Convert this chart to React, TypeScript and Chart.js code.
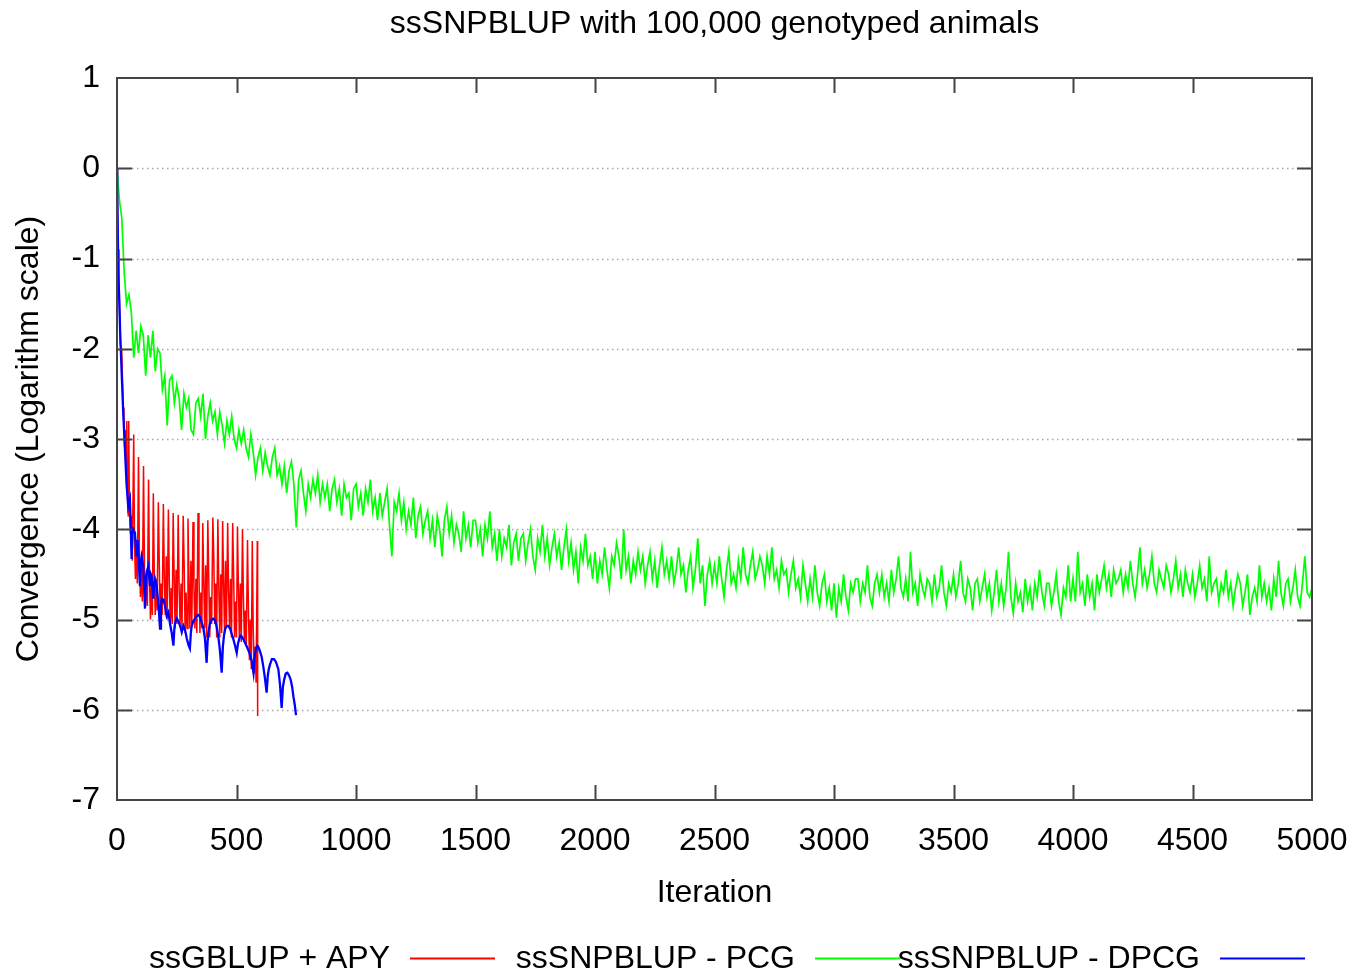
import React, { useEffect, useRef } from 'react';
import { Chart, registerables } from 'chart.js';

Chart.register(...registerables);

const TITLE = 'ssSNPBLUP with 100,000 genotyped animals';
const X_TITLE = 'Iteration';
const Y_TITLE = 'Convergence (Logarithm scale)';
const X_MIN = 0;
const X_MAX = 5000;
const X_STEP = 500;
const Y_MIN = -7;
const Y_MAX = 1;
const Y_STEP = 1;

const SERIES_LABELS = ['ssGBLUP + APY', 'ssSNPBLUP - PCG', 'ssSNPBLUP - DPCG'];
const SERIES_COLORS = ['#ff0000', '#00ff00', '#0000ff'];

// ssSNPBLUP - PCG, one value every GREEN_STEP iterations (0..5000)
const GREEN_STEP = 10;
const GREEN_VALUES = [
  0, -0.35, -0.55, -1.15, -1.5, -1.4, -1.6, -2.1, -1.8, -2.05,
  -1.75, -1.85, -2.3, -1.85, -2.1, -1.8, -2.25, -2.0, -2.05, -2.45,
  -2.3, -2.85, -2.35, -2.3, -2.6, -2.4, -2.55, -2.9, -2.5, -2.65,
  -2.55, -2.9, -2.95, -2.6, -2.55, -2.75, -2.5, -3.0, -2.75, -2.6,
  -2.8, -2.7, -2.95, -2.7, -2.85, -3.05, -2.8, -2.95, -2.75, -3.0,
  -3.1, -2.9, -3.05, -2.9, -3.1, -3.2, -2.95, -3.15, -3.4, -3.2,
  -3.1, -3.35, -3.15, -3.3, -3.4, -3.2, -3.1, -3.4, -3.3, -3.5,
  -3.3, -3.6, -3.35, -3.25, -3.5, -3.98, -3.45, -3.35, -3.6, -3.8,
  -3.5, -3.65, -3.45, -3.6, -3.4, -3.7, -3.5, -3.65, -3.5, -3.8,
  -3.55, -3.45, -3.7, -3.55, -3.85, -3.5, -3.65, -3.6, -3.9, -3.55,
  -3.5, -3.75, -3.6, -3.85, -3.55, -3.7, -3.45, -3.8, -3.65, -3.9,
  -3.6, -3.85, -3.7, -3.55, -3.95, -4.3, -3.7, -3.8, -3.6, -3.9,
  -3.7, -4.0, -3.8, -3.95, -3.65, -4.1, -3.85, -3.75, -4.05, -3.9,
  -3.8, -4.1, -3.9, -4.2, -3.85, -4.0, -4.3, -3.9, -3.75, -4.05,
  -3.85, -4.15, -3.95, -4.05, -4.25, -3.8, -4.1, -3.95, -4.2, -3.9,
  -3.9, -4.15, -4.0, -4.3, -3.95, -4.1, -3.8, -4.2, -4.05, -4.35,
  -4.0, -4.3, -4.1, -4.2, -3.95, -4.4, -4.15, -4.05, -4.35, -4.1,
  -4.05, -4.35, -4.15, -4.0, -4.3, -4.45, -4.1, -4.25, -3.95, -4.3,
  -4.1, -4.4, -4.2, -4.05, -4.3, -4.15, -4.45, -4.2, -4.0, -4.35,
  -4.15, -4.45, -4.25, -4.6, -4.2, -4.35, -4.05, -4.4, -4.3, -4.55,
  -4.25, -4.6, -4.35, -4.5, -4.2, -4.45, -4.65, -4.3, -4.4, -4.15,
  -4.3, -4.55, -4.0, -4.45, -4.3, -4.6, -4.35, -4.5, -4.25, -4.45,
  -4.3, -4.6, -4.4, -4.25, -4.55, -4.35, -4.65, -4.4, -4.2, -4.5,
  -4.35, -4.55, -4.3, -4.6, -4.45, -4.2, -4.5, -4.4, -4.7, -4.45,
  -4.3, -4.65, -4.45, -4.1, -4.6, -4.4, -4.85, -4.5, -4.35, -4.6,
  -4.4, -4.6, -4.3, -4.55, -4.75, -4.45, -4.25, -4.6, -4.5, -4.65,
  -4.35, -4.55, -4.2, -4.5, -4.6, -4.4, -4.25, -4.55, -4.45, -4.3,
  -4.4, -4.6, -4.3, -4.5, -4.2, -4.55, -4.45, -4.65, -4.35, -4.5,
  -4.45, -4.7, -4.5, -4.35, -4.65, -4.55, -4.75, -4.4, -4.6, -4.8,
  -4.55, -4.75, -4.4, -4.7, -4.85, -4.6, -4.5, -4.8, -4.65, -4.9,
  -4.6, -4.98, -4.65, -4.8, -4.5, -4.75, -4.9, -4.6, -4.7, -4.55,
  -4.55, -4.8, -4.6, -4.7, -4.4, -4.75, -4.85, -4.6, -4.5, -4.7,
  -4.5, -4.75, -4.6, -4.8, -4.45, -4.7, -4.55, -4.3, -4.65, -4.75,
  -4.55, -4.8, -4.25, -4.7, -4.6, -4.85, -4.5, -4.65, -4.75, -4.55,
  -4.6, -4.8, -4.5, -4.75, -4.65, -4.4, -4.7, -4.85, -4.6, -4.7,
  -4.5, -4.75, -4.6, -4.35, -4.7, -4.8, -4.55, -4.65, -4.9, -4.6,
  -4.55, -4.8, -4.65, -4.5, -4.75, -4.6, -4.9, -4.7, -4.45, -4.8,
  -4.6, -4.85, -4.65, -4.25, -4.75, -4.93, -4.6, -4.8, -4.7, -4.92,
  -4.55, -4.8, -4.65, -4.9, -4.6, -4.75, -4.45, -4.7, -4.85, -4.6,
  -4.6, -4.85, -4.7, -4.5, -4.8, -4.95, -4.65, -4.75, -4.4, -4.8,
  -4.55, -4.8, -4.25, -4.7, -4.6, -4.85, -4.5, -4.75, -4.6, -4.9,
  -4.5, -4.7, -4.55, -4.4, -4.65, -4.5, -4.75, -4.45, -4.6, -4.55,
  -4.45, -4.7, -4.5, -4.65, -4.35, -4.6, -4.75, -4.5, -4.2, -4.6,
  -4.45, -4.65, -4.5, -4.3, -4.6, -4.7, -4.45, -4.55, -4.65, -4.4,
  -4.5, -4.7, -4.55, -4.35, -4.65, -4.5, -4.75, -4.45, -4.6, -4.7,
  -4.5, -4.75, -4.6, -4.4, -4.65, -4.55, -4.8, -4.3, -4.7, -4.6,
  -4.55, -4.8, -4.6, -4.7, -4.45, -4.75, -4.6, -4.85, -4.65, -4.5,
  -4.6, -4.85, -4.7, -4.5, -4.95, -4.75, -4.65, -4.8, -4.4, -4.75,
  -4.6, -4.8, -4.65, -4.9, -4.55, -4.75, -4.35, -4.7, -4.85, -4.6,
  -4.55, -4.8, -4.65, -4.45, -4.75, -4.85, -4.6, -4.3, -4.7, -4.75,
  -4.65,
];

// ssGBLUP + APY: [iteration, value]
const RED_POINTS: [number, number][] = [
  [0, 0], [2, -0.3], [5, -0.9], [8, -1.3], [11, -1.6], [14, -1.95], [17, -2.0], [20, -2.05],
  [23, -2.35], [26, -2.65], [29, -2.85], [32, -3.1], [35, -2.9], [38, -3.35], [41, -2.8],
  [44, -3.6], [47, -3.85], [49, -2.8], [52, -3.75], [56, -4.05], [60, -3.85], [64, -4.35],
  [70, -2.95], [73, -4.1], [77, -4.55], [81, -4.25], [85, -4.6],
  [90, -3.2], [94, -4.3], [98, -4.75], [102, -4.4], [106, -4.8],
  [111, -3.3], [115, -4.45], [119, -4.85], [123, -4.5], [127, -4.85],
  [132, -3.45], [136, -4.55], [140, -5.0], [144, -4.6], [148, -4.95],
  [152, -3.6], [156, -4.5], [160, -4.95], [164, -4.55], [168, -4.9],
  [173, -3.7], [177, -4.4], [181, -5.0], [185, -4.6], [189, -4.95],
  [194, -3.72], [198, -4.55], [202, -4.95], [206, -4.3], [210, -5.0],
  [215, -3.78], [219, -4.6], [223, -5.05], [227, -4.65], [231, -5.05],
  [235, -3.82], [239, -4.5], [243, -5.1], [247, -4.45], [251, -5.05],
  [256, -3.84], [260, -4.65], [264, -5.05], [268, -4.6], [272, -5.1],
  [277, -3.85], [281, -4.4], [285, -5.15], [289, -4.7], [293, -5.1],
  [297, -3.88], [301, -4.6], [305, -5.1], [309, -4.35], [313, -5.05],
  [318, -3.92], [322, -4.65], [326, -5.1], [330, -4.55], [334, -5.15],
  [339, -3.82], [343, -4.5], [347, -5.15], [351, -4.7], [355, -5.1],
  [359, -3.93], [363, -4.6], [367, -5.1], [371, -4.4], [375, -5.2],
  [380, -3.9], [384, -4.55], [388, -5.2], [392, -4.75], [396, -5.05],
  [401, -3.87], [405, -4.3], [409, -5.05], [413, -4.6], [417, -5.2],
  [422, -3.89], [426, -4.65], [430, -5.2], [434, -4.5], [438, -5.15],
  [442, -3.91], [446, -4.6], [450, -5.15], [454, -4.35], [458, -5.1],
  [463, -3.93], [467, -4.7], [471, -5.1], [475, -4.55], [479, -5.2],
  [484, -3.93], [488, -4.5], [492, -5.2], [496, -4.8], [500, -5.2],
  [504, -3.97], [508, -4.65], [512, -5.2], [516, -4.6], [520, -5.25],
  [525, -4.0], [529, -4.75], [533, -5.25], [537, -4.9], [541, -5.3],
  [546, -4.12], [550, -4.9], [554, -5.45], [558, -5.0], [562, -5.55],
  [566, -4.13], [570, -5.1], [574, -5.6], [578, -5.3], [582, -5.7],
  [587, -4.13], [588, -5.5], [589, -6.07],
];

// ssSNPBLUP - DPCG: [iteration, value]
const BLUE_POINTS: [number, number][] = [
  [0, 0], [1, -0.28], [6, -1.2], [10, -1.5], [13, -1.8], [20, -2.3], [26, -2.7], [33, -3.1],
  [40, -3.5], [47, -3.75], [54, -3.67], [57, -3.9], [61, -4.33], [64, -4.05], [68, -4.0],
  [75, -4.04], [82, -4.3], [86, -4.12], [90, -4.3], [96, -4.63], [100, -4.35], [103, -4.3],
  [110, -4.41], [117, -4.88], [121, -4.55], [124, -4.48], [131, -4.41], [138, -4.63],
  [142, -4.5], [145, -4.52], [152, -4.77], [156, -4.6], [159, -4.55], [166, -4.63],
  [174, -4.85], [180, -5.1], [184, -4.85], [187, -4.77], [194, -4.78], [201, -4.85],
  [208, -4.96], [215, -4.92], [222, -5.05], [229, -5.15], [236, -5.29], [240, -5.1],
  [243, -5.04], [250, -4.99], [257, -5.02], [264, -5.07], [271, -5.14], [278, -5.07],
  [285, -5.12], [292, -5.21], [299, -5.28], [305, -5.32], [309, -5.15], [312, -5.08],
  [319, -5.02], [326, -4.99], [333, -4.96], [340, -4.95], [347, -4.97], [354, -5.03],
  [361, -5.09], [368, -5.21], [375, -5.48], [379, -5.25], [382, -5.15], [389, -5.04],
  [396, -5.0], [403, -4.99], [410, -5.01], [417, -5.08], [424, -5.19], [431, -5.35],
  [438, -5.59], [443, -5.3], [448, -5.17], [453, -5.1], [459, -5.07], [466, -5.07],
  [473, -5.1], [480, -5.16], [487, -5.22], [494, -5.29], [501, -5.37], [506, -5.27],
  [512, -5.21], [517, -5.18], [522, -5.19], [529, -5.22], [536, -5.26], [543, -5.3],
  [554, -5.37], [563, -5.45], [571, -5.59], [576, -5.4], [582, -5.32], [587, -5.29],
  [591, -5.3], [598, -5.35], [605, -5.41], [612, -5.52], [619, -5.65], [626, -5.81],
  [631, -5.62], [635, -5.55], [640, -5.5], [648, -5.44], [657, -5.44], [665, -5.47],
  [675, -5.55], [682, -5.72], [689, -5.98], [694, -5.75], [699, -5.67], [706, -5.6],
  [713, -5.59], [720, -5.62], [727, -5.67], [733, -5.75], [738, -5.85], [744, -5.95],
  [749, -6.06],
];

const FONT = '"Liberation Sans", Arial, sans-serif';
const FONT_SIZE = 32;

const gnuplotFrame = {
  id: 'gnuplotFrame',
  beforeDatasetsDraw(chart: any) {
    const { ctx, chartArea: a, scales } = chart;
    const y = scales.y;
    ctx.save();
    ctx.strokeStyle = '#a8a8a8';
    ctx.lineWidth = 1.3;
    ctx.setLineDash([1.5, 3.5]);
    for (let v = Y_MIN + Y_STEP; v < Y_MAX; v += Y_STEP) {
      const py = Math.round(y.getPixelForValue(v)) + 0.5;
      ctx.beginPath();
      ctx.moveTo(a.left, py);
      ctx.lineTo(a.right, py);
      ctx.stroke();
    }
    ctx.restore();
  },
  afterDatasetsDraw(chart: any) {
    const { ctx, chartArea: a, scales } = chart;
    const x = scales.x;
    const y = scales.y;
    const tl = 15;
    ctx.save();
    ctx.strokeStyle = '#444444';
    ctx.lineWidth = 2;
    ctx.setLineDash([]);
    ctx.beginPath();
    for (let v = Y_MIN + Y_STEP; v < Y_MAX; v += Y_STEP) {
      const py = Math.round(y.getPixelForValue(v)) + 0.5;
      ctx.moveTo(a.left, py);
      ctx.lineTo(a.left + tl, py);
      ctx.moveTo(a.right, py);
      ctx.lineTo(a.right - tl, py);
    }
    for (let v = X_MIN + X_STEP; v < X_MAX; v += X_STEP) {
      const px = Math.round(x.getPixelForValue(v)) + 0.5;
      ctx.moveTo(px, a.bottom);
      ctx.lineTo(px, a.bottom - tl);
      ctx.moveTo(px, a.top);
      ctx.lineTo(px, a.top + tl);
    }
    ctx.stroke();
    ctx.strokeRect(a.left, a.top, a.right - a.left, a.bottom - a.top);
    ctx.restore();
  },
  afterDraw(chart: any) {
    const { ctx, chartArea: a } = chart;
    const cx = (a.left + a.right) / 2;
    ctx.save();
    ctx.fillStyle = '#000000';
    ctx.font = `${FONT_SIZE}px ${FONT}`;
    ctx.textBaseline = 'middle';
    ctx.textAlign = 'center';
    ctx.fillText(TITLE, cx, 24);
    ctx.fillText(X_TITLE, cx, 893);
    ctx.save();
    ctx.translate(29, (a.top + a.bottom) / 2);
    ctx.rotate(-Math.PI / 2);
    ctx.fillText(Y_TITLE, 0, 0);
    ctx.restore();
    // legend: text right-justified, then line sample
    const ly = 959;
    for (let i = 0; i < SERIES_LABELS.length; i++) {
      const s = 410 + 405 * i;
      ctx.textAlign = 'right';
      ctx.fillStyle = '#000000';
      ctx.fillText(SERIES_LABELS[i], s - 20, ly);
      ctx.strokeStyle = SERIES_COLORS[i];
      ctx.lineWidth = 2;
      ctx.beginPath();
      ctx.moveTo(s, ly - 0.5);
      ctx.lineTo(s + 85, ly - 0.5);
      ctx.stroke();
    }
    ctx.restore();
  },
};

export default function App() {
  const ref = useRef<HTMLCanvasElement | null>(null);

  useEffect(() => {
    if (!ref.current) return;
    const green = GREEN_VALUES.map((v, i) => ({ x: i * GREEN_STEP, y: v }));
    const red = RED_POINTS.map(([x, y]) => ({ x, y }));
    const blue = BLUE_POINTS.map(([x, y]) => ({ x, y }));
    const chart = new Chart(ref.current, {
      type: 'line',
      data: {
        datasets: [
          { label: SERIES_LABELS[0], data: red, borderColor: SERIES_COLORS[0], borderWidth: 1.5, pointRadius: 0, tension: 0, order: 3 },
          { label: SERIES_LABELS[1], data: green, borderColor: SERIES_COLORS[1], borderWidth: 1.7, pointRadius: 0, tension: 0, order: 2 },
          { label: SERIES_LABELS[2], data: blue, borderColor: SERIES_COLORS[2], borderWidth: 2.3, pointRadius: 0, tension: 0, order: 1 },
        ],
      },
      options: {
        animation: false,
        responsive: false,
        devicePixelRatio: 1,
        events: [],
        layout: { padding: { top: 78, right: 49, left: 0, bottom: 0 } },
        plugins: { legend: { display: false }, title: { display: false }, tooltip: { enabled: false } },
        scales: {
          x: {
            type: 'linear',
            min: X_MIN,
            max: X_MAX,
            grid: { display: false, drawTicks: false },
            border: { display: false },
            ticks: {
              stepSize: X_STEP,
              autoSkip: false,
              maxRotation: 0,
              padding: 22,
              color: '#000000',
              font: { family: FONT, size: FONT_SIZE },
              callback: (v: any) => String(v),
            },
            afterFit: (s: any) => { s.height = 173; s.paddingLeft = 0; s.paddingRight = 0; },
          },
          y: {
            type: 'linear',
            min: Y_MIN,
            max: Y_MAX,
            grid: { display: false, drawTicks: false },
            border: { display: false },
            ticks: {
              stepSize: Y_STEP,
              autoSkip: false,
              padding: 17,
              color: '#000000',
              font: { family: FONT, size: FONT_SIZE },
              callback: (v: any) => String(v),
            },
            afterFit: (s: any) => { s.width = 117; s.paddingTop = 0; s.paddingBottom = 0; },
          },
        },
      },
      plugins: [gnuplotFrame],
    });
    return () => chart.destroy();
  }, []);

  return (
    <div style={{ position: 'absolute', left: 0, top: 0, width: 1361, height: 973, background: '#ffffff' }}>
      <canvas ref={ref} width={1361} height={973} />
    </div>
  );
}
